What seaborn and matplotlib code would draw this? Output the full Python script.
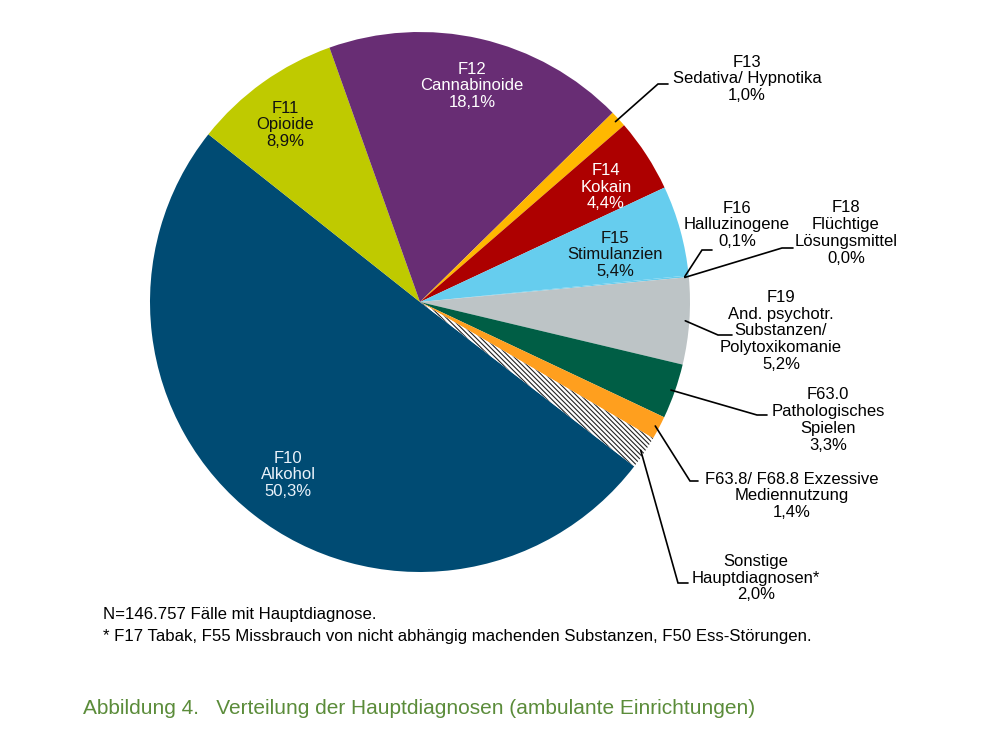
import numpy as np
import matplotlib
matplotlib.use("Agg")
import matplotlib.pyplot as plt
import seaborn as sns

# ---- data ----
codes = ["F10", "F11", "F12", "F13", "F14", "F15", "F16", "F18", "F19",
         "F63.0", "F63.8/ F68.8 Exzessive", "Sonstige"]
names = ["Alkohol", "Opioide", "Cannabinoide", "Sedativa/ Hypnotika", "Kokain",
         "Stimulanzien", "Halluzinogene", "Flüchtige\nLösungsmittel",
         "And. psychotr.\nSubstanzen/\nPolytoxikomanie", "Pathologisches\nSpielen",
         "Mediennutzung", "Hauptdiagnosen*"]
shares = [50.3, 8.9, 18.1, 1.0, 4.4, 5.4, 0.1, 0.0, 5.2, 3.3, 1.4, 2.0]
colors = ["#004B73", "#BFCA00", "#682D74", "#FFB800", "#AD0000", "#66CDEE",
          "#66CDEE", "#BDC4C6", "#BDC4C6", "#005E45", "#FF9F1E", "#FFFFFF"]
note1 = "N=146.757 Fälle mit Hauptdiagnose."
note2 = "* F17 Tabak, F55 Missbrauch von nicht abhängig machenden Substanzen, F50 Ess-Störungen."
caption = "Abbildung 4.   Verteilung der Hauptdiagnosen (ambulante Einrichtungen)"

sns.set_theme(style="white")
plt.rcParams["font.family"] = ["Liberation Sans", "DejaVu Sans"]
plt.rcParams["hatch.linewidth"] = 0.8

W, H = 1000, 738
fig = plt.figure(figsize=(W / 100, H / 100), dpi=100)
ax = fig.add_axes([0, 0, 1, 1])

CX, CY, R = 420, 302, 270
def P(px, py):
    return ((px - CX) / R, (CY - py) / R)

wedges, _ = ax.pie(shares, colors=colors, startangle=-37.5, counterclock=False,
                   radius=1.0, wedgeprops=dict(linewidth=0, edgecolor="none"))
wedges[-1].set_hatch("\\" * 7)
wedges[-1].set_edgecolor("#222222")
wedges[-1].set_linewidth(0)

ax.set_xlim(-CX / R, (W - CX) / R)
ax.set_ylim((CY - H) / R, CY / R)
ax.set_aspect("equal")
ax.axis("off")

fs = 12
def label(i):
    return f"{codes[i]}\n{names[i]}\n" + f"{shares[i]:.1f}".replace(".", ",") + "%"

# inside labels
inside = {0: ((288, 475), "#EAF2FA"), 1: ((285, 125), "#111111"),
          2: ((472, 86), "white"), 4: ((606, 187), "white"),
          5: ((615, 255), "#111111")}
for i, ((px, py), c) in inside.items():
    ax.text(*P(px, py), label(i), ha="center", va="center", fontsize=fs,
            color=c, linespacing=1.15)

# outside labels with leader lines: (text center, elbow, end)
outside = {
    3: ((747, 79), (658, 84), (668, 84)),
    6: ((737, 225), (702, 250), (712, 250)),
    7: ((846, 233), (782, 248), (793, 248)),
    8: ((781, 331), (718, 335), (732, 335)),
    9: ((828, 420), (757, 415), (767, 415)),
    10: ((792, 496), (690, 481), (698, 481)),
    11: ((756, 578), (678, 583), (688, 583)),
}
for w, (i, (tc, el, en)) in zip([wedges[k] for k in outside], outside.items()):
    ang = np.deg2rad((w.theta1 + w.theta2) / 2)
    r0 = 0.985
    sx, sy = r0 * np.cos(ang), r0 * np.sin(ang)
    ex, ey = P(*el)
    nx, ny = P(*en)
    ax.plot([sx, ex, nx], [sy, ey, ny], color="black", lw=1.2,
            solid_joinstyle="miter", clip_on=False)
    ax.text(*P(*tc), label(i), ha="center", va="center", fontsize=fs,
            color="black", linespacing=1.15)

fig.text(103 / W, 1 - 614 / H, note1, ha="left", va="center", fontsize=12.1, color="black")
fig.text(103 / W, 1 - 636 / H, note2, ha="left", va="center", fontsize=12.1, color="black")
fig.text(83 / W, 1 - 708 / H, caption, ha="left", va="center", fontsize=15,
         color="#5B8C3A")

fig.savefig("out.png", dpi=100, facecolor="white")
